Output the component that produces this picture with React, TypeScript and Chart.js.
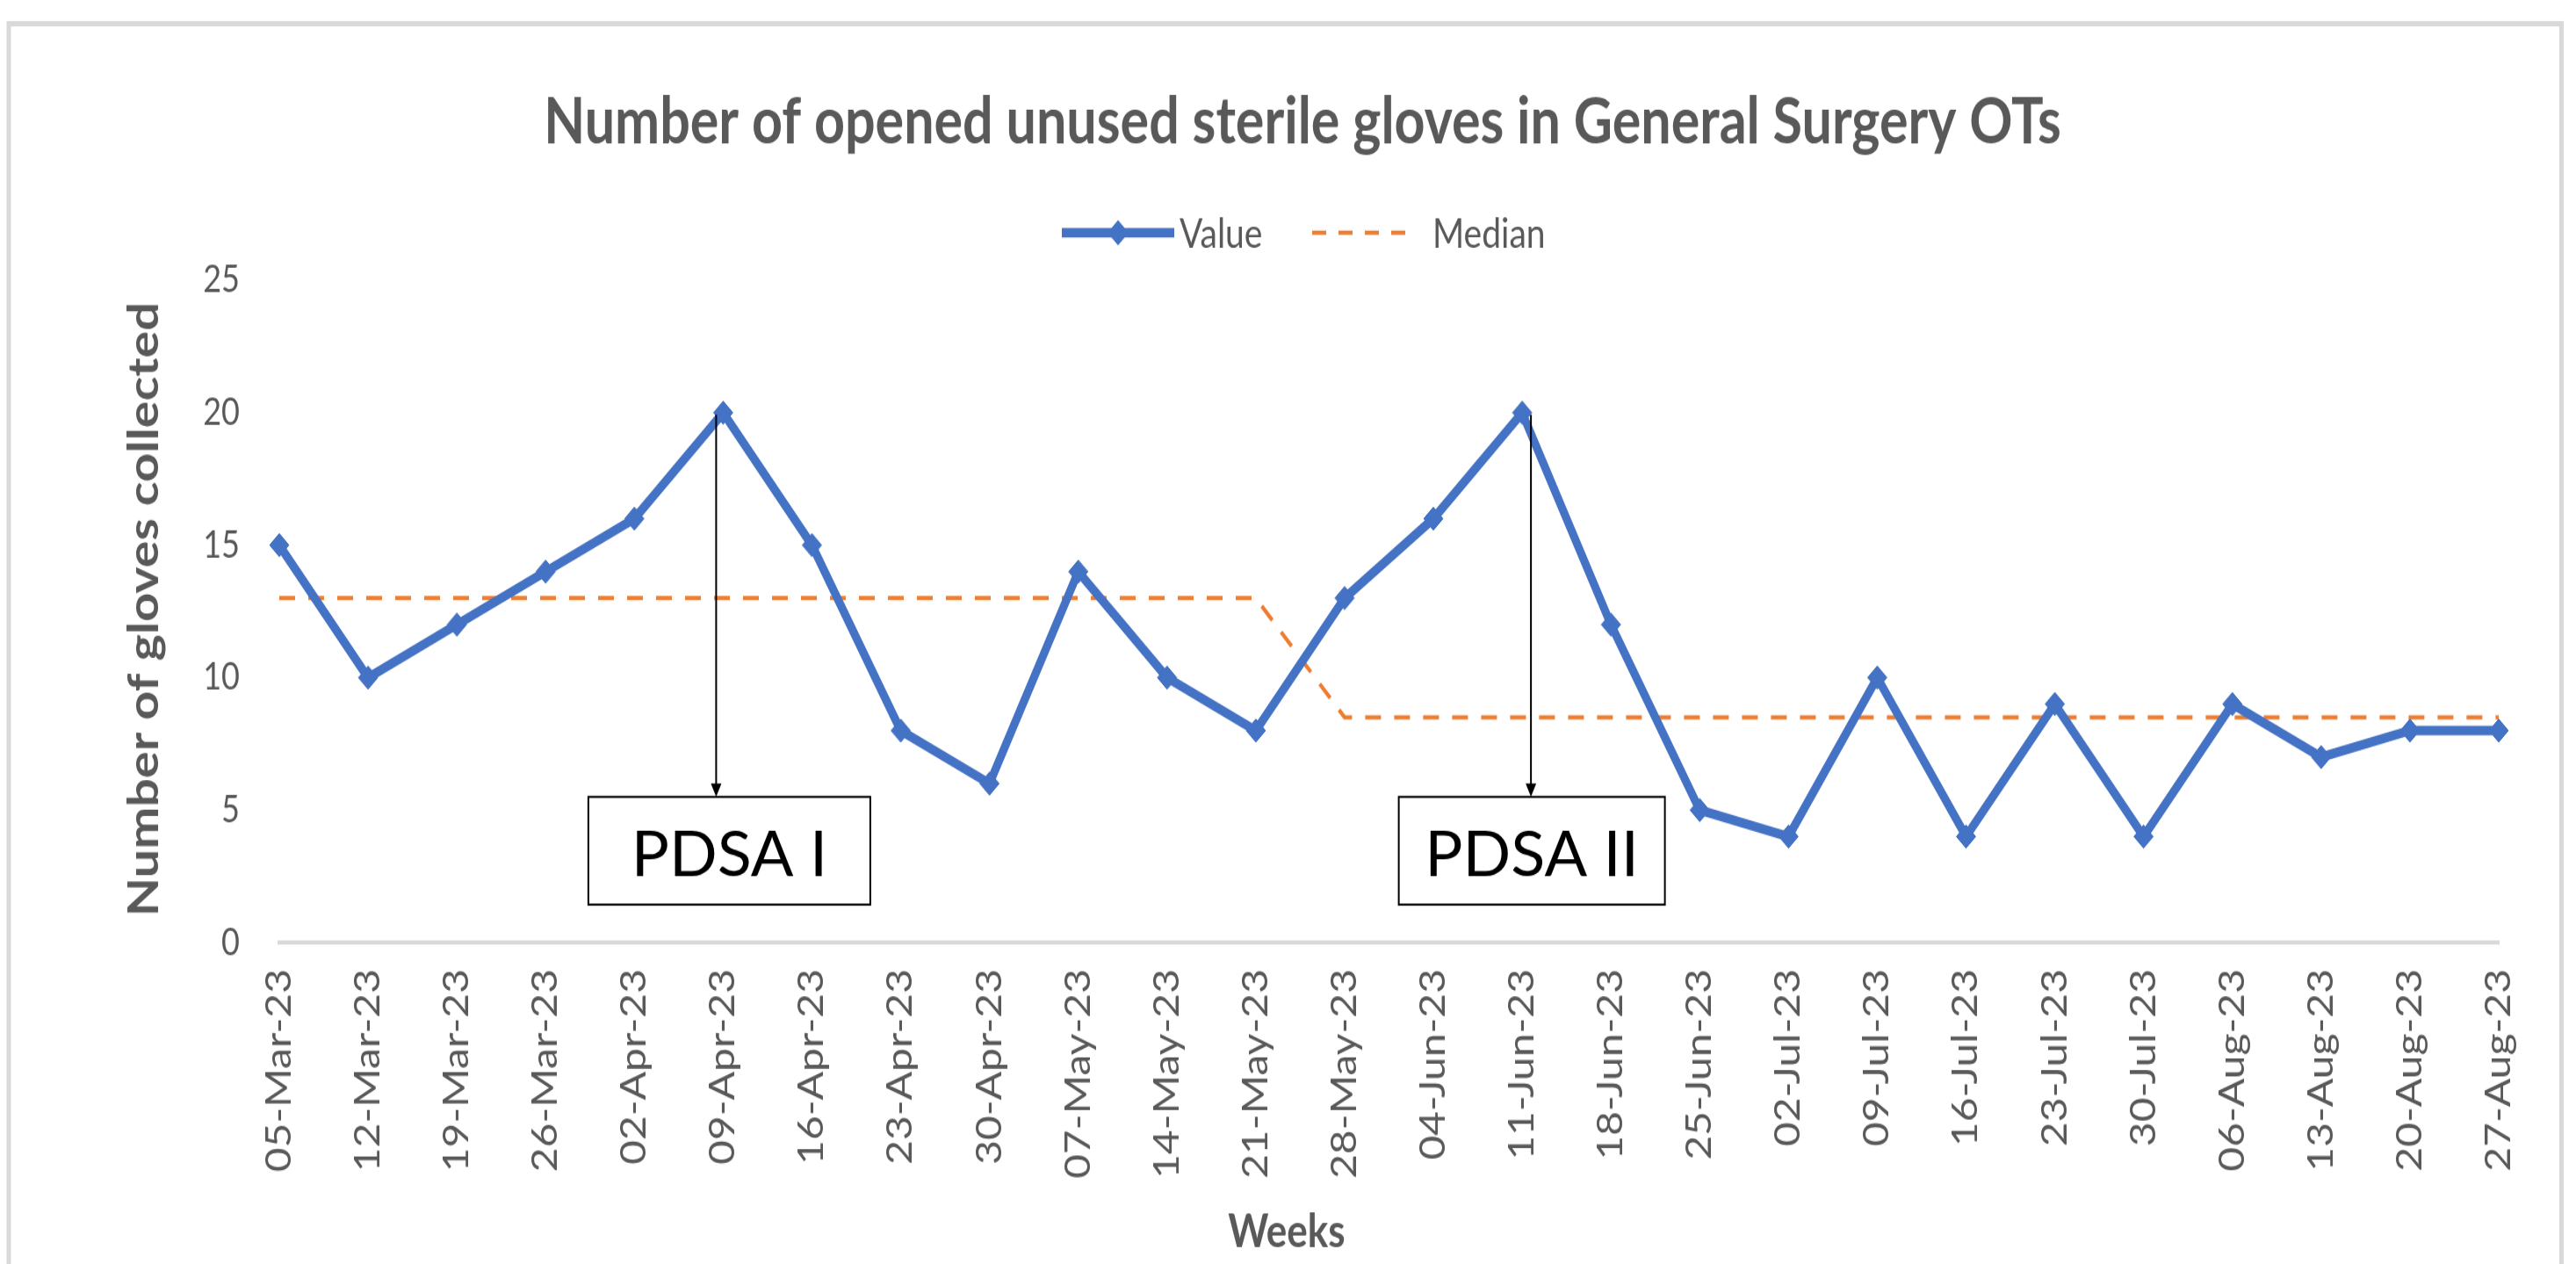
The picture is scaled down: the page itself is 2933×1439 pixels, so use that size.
import React, { useEffect, useRef } from 'react';
import { Chart, registerables } from 'chart.js';

Chart.register(...registerables);

// ---------------- data ----------------
const chartTitle = 'Number of opened unused sterile gloves in General Surgery OTs';
const yAxisTitle = 'Number of gloves collected';
const xAxisTitle = 'Weeks';

const weeks = [
  '05-Mar-23', '12-Mar-23', '19-Mar-23', '26-Mar-23', '02-Apr-23', '09-Apr-23',
  '16-Apr-23', '23-Apr-23', '30-Apr-23', '07-May-23', '14-May-23', '21-May-23',
  '28-May-23', '04-Jun-23', '11-Jun-23', '18-Jun-23', '25-Jun-23', '02-Jul-23',
  '09-Jul-23', '16-Jul-23', '23-Jul-23', '30-Jul-23', '06-Aug-23', '13-Aug-23',
  '20-Aug-23', '27-Aug-23',
];

const gloveValues = [
  15, 10, 12, 14, 16, 20, 15, 8, 6, 14, 10, 8, 13,
  16, 20, 12, 5, 4, 10, 4, 9, 4, 9, 7, 8, 8,
];

const medianValues = [
  13, 13, 13, 13, 13, 13, 13, 13, 13, 13, 13, 13, 8.5,
  8.5, 8.5, 8.5, 8.5, 8.5, 8.5, 8.5, 8.5, 8.5, 8.5, 8.5, 8.5, 8.5,
];

const yMin = 0;
const yMax = 25;
const yStep = 5;

const pdsaLabels = ['PDSA I', 'PDSA II'];
const pdsaWeeks = ['09-Apr-23', '11-Jun-23'];
const pdsaBoxTopValue = 5.5;
const pdsaBoxBottomValue = 1.43;

// ---------------- styling / layout ----------------
const CANVAS_W = 2933;
const CANVAS_H = 1199;
const STRETCH = 1439 / CANVAS_H; // vertical stretch of the original picture
const sy = (v: number) => v / STRETCH;

const FONT = 'Lato, "Noto Sans", sans-serif';
const GREY = '#595959';
const BLUE = '#4472C4';
const ORANGE = '#ED7D31';

const PLOT_LEFT = 318;
const PLOT_RIGHT = 2845;
const PLOT_TOP = sy(319);
const PLOT_BOTTOM = sy(1073);

const pdsaStyle = {
  arrowDx: [-8, 10],
  boxDx: [7, 11],
  boxW: [321, 303],
};

function diamond(ctx: CanvasRenderingContext2D, cx: number, cy: number, r: number) {
  ctx.beginPath();
  ctx.moveTo(cx - r, cy);
  ctx.lineTo(cx, cy - r);
  ctx.lineTo(cx + r, cy);
  ctx.lineTo(cx, cy + r);
  ctx.closePath();
  ctx.fill();
}

const decorPlugin = {
  id: 'excelDecor',
  beforeDraw(chart: any) {
    const { ctx } = chart;
    ctx.save();
    ctx.fillStyle = '#ffffff';
    ctx.fillRect(0, 0, chart.width, chart.height);
    ctx.strokeStyle = '#d9d9d9';
    ctx.lineWidth = 5;
    ctx.strokeRect(10, sy(27), 2916.5 - 10, chart.height + 60);
    ctx.restore();
  },
  afterDraw(chart: any) {
    const { ctx, chartArea, scales } = chart;
    const xs = scales.x;
    const ys = scales.y;
    const ds = chart.data.datasets;
    ctx.save();

    // Title
    ctx.fillStyle = GREY;
    ctx.textAlign = 'center';
    ctx.textBaseline = 'alphabetic';
    ctx.font = `bold 61px ${FONT}`;
    ctx.fillText(chartTitle, 1483, sy(163));

    // Legend
    const ly = sy(265);
    const lBase = sy(282);
    ctx.font = `39px ${FONT}`;
    ctx.textAlign = 'left';
    ctx.setLineDash([]);
    ctx.strokeStyle = ds[0].borderColor;
    ctx.lineWidth = ds[0].borderWidth;
    ctx.beginPath();
    ctx.moveTo(1209, ly);
    ctx.lineTo(1337, ly);
    ctx.stroke();
    ctx.fillStyle = ds[0].borderColor;
    diamond(ctx, 1273, ly, 12);
    ctx.fillStyle = GREY;
    ctx.fillText(ds[0].label, 1343, lBase);

    ctx.strokeStyle = ds[1].borderColor;
    ctx.lineWidth = ds[1].borderWidth;
    ctx.setLineDash([16, 14]);
    ctx.beginPath();
    ctx.moveTo(1494, ly);
    ctx.lineTo(1613, ly);
    ctx.stroke();
    ctx.setLineDash([]);
    ctx.fillStyle = GREY;
    ctx.fillText(ds[1].label, 1631, lBase);

    // Y axis title
    ctx.save();
    ctx.translate(180, (chartArea.top + chartArea.bottom) / 2 - 2);
    ctx.rotate(-Math.PI / 2);
    ctx.font = `bold 48px ${FONT}`;
    ctx.textAlign = 'center';
    ctx.fillStyle = GREY;
    ctx.fillText(yAxisTitle, 0, 0);
    ctx.restore();

    // X axis title
    ctx.font = `bold 44px ${FONT}`;
    ctx.textAlign = 'center';
    ctx.fillStyle = GREY;
    ctx.fillText(xAxisTitle, 1465, sy(1420));

    // PDSA annotations
    const boxTop = ys.getPixelForValue(pdsaBoxTopValue);
    const boxBottom = ys.getPixelForValue(pdsaBoxBottomValue);
    pdsaWeeks.forEach((wk, i) => {
      const idx = weeks.indexOf(wk);
      const px = xs.getPixelForValue(idx);
      const py = ys.getPixelForValue(gloveValues[idx]);
      const ax = px + pdsaStyle.arrowDx[i];
      const headLen = sy(15);
      ctx.strokeStyle = '#000';
      ctx.fillStyle = '#000';
      ctx.lineWidth = 2;
      ctx.beginPath();
      ctx.moveTo(ax, py + 2);
      ctx.lineTo(ax, boxTop - headLen + 1);
      ctx.stroke();
      ctx.beginPath();
      ctx.moveTo(ax - 6, boxTop - headLen);
      ctx.lineTo(ax + 6, boxTop - headLen);
      ctx.lineTo(ax, boxTop);
      ctx.closePath();
      ctx.fill();

      const cx = px + pdsaStyle.boxDx[i];
      const w = pdsaStyle.boxW[i];
      ctx.fillStyle = '#fff';
      ctx.fillRect(cx - w / 2, boxTop, w, boxBottom - boxTop);
      ctx.lineWidth = 2;
      ctx.strokeRect(cx - w / 2, boxTop, w, boxBottom - boxTop);

      ctx.save();
      ctx.translate(cx, boxTop + sy(90));
      ctx.scale(1, 1 / STRETCH);
      ctx.font = `72px ${FONT}`;
      ctx.textAlign = 'center';
      ctx.fillStyle = '#000';
      ctx.fillText(pdsaLabels[i], 0, 0);
      ctx.restore();
    });

    ctx.restore();
  },
};

export default function App() {
  const canvasRef = useRef<HTMLCanvasElement>(null);

  useEffect(() => {
    const canvas = canvasRef.current;
    if (!canvas) return;
    const chart = new Chart(canvas, {
      type: 'line',
      data: {
        labels: weeks,
        datasets: [
          {
            label: 'Value',
            data: gloveValues,
            borderColor: BLUE,
            backgroundColor: BLUE,
            borderWidth: 9,
            pointStyle: 'rectRot',
            pointRadius: 11,
            pointBorderWidth: 1,
            pointBackgroundColor: BLUE,
            pointBorderColor: BLUE,
            tension: 0,
            fill: false,
          },
          {
            label: 'Median',
            data: medianValues,
            borderColor: ORANGE,
            backgroundColor: ORANGE,
            borderWidth: 4,
            borderDash: [18, 15],
            pointRadius: 0,
            tension: 0,
            fill: false,
          },
        ],
      },
      options: {
        responsive: false,
        maintainAspectRatio: false,
        animation: false,
        devicePixelRatio: 1,
        layout: {
          padding: { left: 0, top: PLOT_TOP, right: CANVAS_W - PLOT_RIGHT, bottom: 0 },
        },
        plugins: {
          legend: { display: false },
          title: { display: false },
          tooltip: { enabled: false },
        },
        scales: {
          x: {
            type: 'category',
            offset: false,
            grid: { display: false, drawTicks: false },
            border: { display: true, color: '#d9d9d9', width: 4 },
            ticks: {
              autoSkip: false,
              minRotation: 90,
              maxRotation: 90,
              padding: 25,
              color: GREY,
              font: { family: FONT, size: 40 },
            },
            afterFit: (scale: any) => {
              scale.height = CANVAS_H - PLOT_BOTTOM;
            },
          },
          y: {
            min: yMin,
            max: yMax,
            grid: { display: false, drawTicks: false },
            border: { display: false },
            ticks: {
              stepSize: yStep,
              padding: 45,
              color: GREY,
              font: { family: FONT, size: 36 },
            },
            afterFit: (scale: any) => {
              scale.width = PLOT_LEFT;
            },
          },
        },
      },
      plugins: [decorPlugin],
    } as any);
    return () => chart.destroy();
  }, []);

  return (
    <div style={{ position: 'absolute', left: 0, top: 0, width: 2933, height: 1439, background: '#fff', overflow: 'hidden' }}>
      <canvas
        ref={canvasRef}
        width={CANVAS_W}
        height={CANVAS_H}
        style={{ display: 'block', width: '2933px', height: '1439px' }}
      />
    </div>
  );
}
